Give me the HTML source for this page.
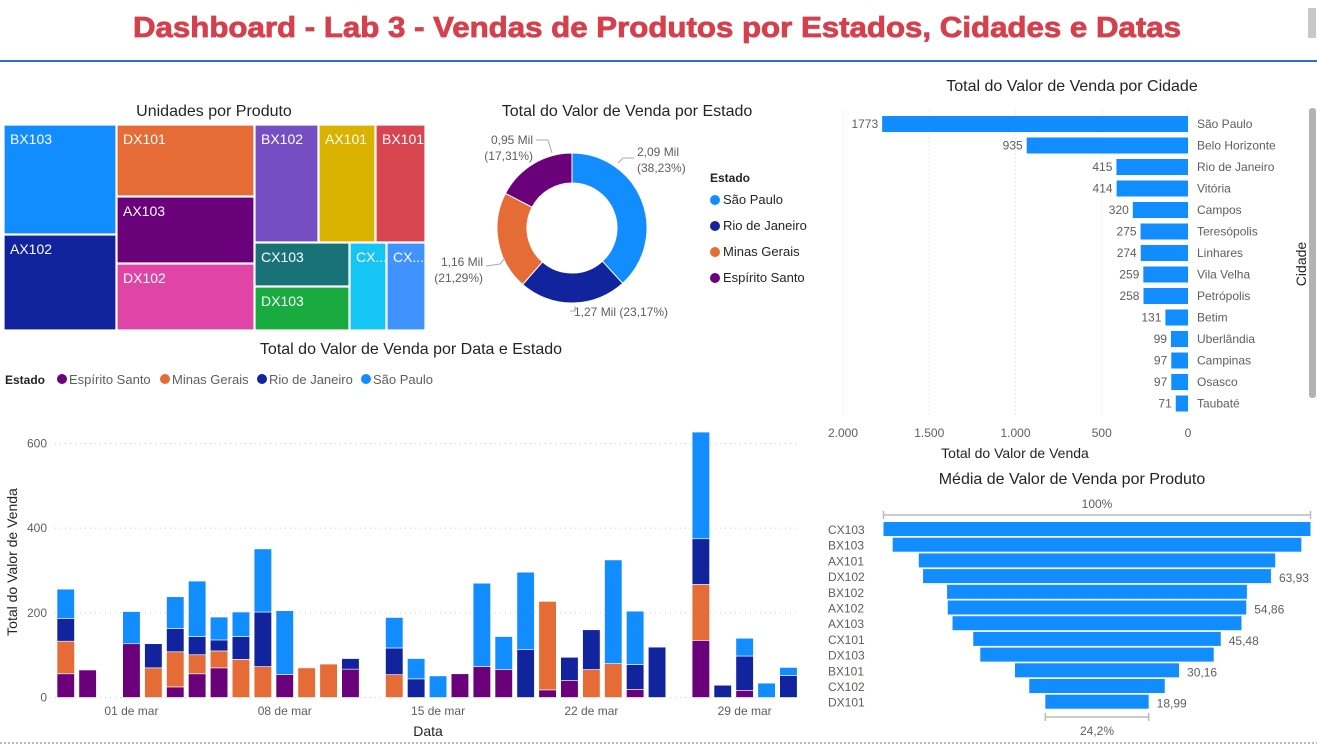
<!DOCTYPE html>
<html><head><meta charset="utf-8"><style>
html,body{margin:0;padding:0;background:#fff;width:1317px;height:745px;overflow:hidden}
svg{display:block;font-family:"Liberation Sans","DejaVu Sans",sans-serif}
</style></head><body>
<svg id="s" width="1317" height="745" viewBox="0 0 1317 745">
<text x="133" y="37" textLength="1048" lengthAdjust="spacingAndGlyphs" font-size="29" font-weight="bold" fill="#d5404c" stroke="#d5404c" stroke-width="0.8">Dashboard - Lab 3 - Vendas de Produtos por Estados, Cidades e Datas</text>
<rect x="1308" y="8" width="8" height="30" fill="#c8c8c8"/>
<line x1="0" y1="61" x2="1317" y2="61" stroke="#2b6fce" stroke-width="2"/>
<line x1="0" y1="743" x2="1317" y2="743" stroke="#777" stroke-dasharray="2,2"/>
<g id="tree">
<text x="214" y="116" text-anchor="middle" font-size="16" fill="#252423">Unidades por Produto</text>
</g>
<g id="donut">
<text x="627" y="116" text-anchor="middle" font-size="16" fill="#252423">Total do Valor de Venda por Estado</text>
</g>
<g id="city">
<text x="1072" y="91" text-anchor="middle" font-size="16" fill="#252423">Total do Valor de Venda por Cidade</text>
<rect x="1309" y="108" width="7" height="290" rx="3" fill="#b3b3b3"/>
<text transform="translate(1306,264) rotate(-90)" text-anchor="middle" font-size="14" fill="#252423">Cidade</text>
<text x="1015" y="458" text-anchor="middle" font-size="14" fill="#252423">Total do Valor de Venda</text>
</g>
<g id="funnel">
<text x="1072" y="484" text-anchor="middle" font-size="16" fill="#252423">Média de Valor de Venda por Produto</text>
</g>
<g id="main">
<text x="411" y="354" text-anchor="middle" font-size="16" fill="#252423">Total do Valor de Venda por Data e Estado</text>
<text transform="translate(17,562) rotate(-90)" text-anchor="middle" font-size="14" fill="#252423">Total do Valor de Venda</text>
<text x="428" y="736" text-anchor="middle" font-size="14" fill="#252423">Data</text>
</g>
</svg>
<script>
// ---- data ----
const treeNames=["BX103","AX102","DX101","AX103","DX102","BX102","AX101","BX101","CX103","DX103","CX...","CX..."];
const stateNames=["São Paulo","Rio de Janeiro","Minas Gerais","Espírito Santo"];
const stateValues=[2.09,1.27,1.16,0.95];
const stateLabels=["2,09 Mil","1,27 Mil","1,16 Mil","0,95 Mil"];
const statePct=["(38,23%)","(23,17%)","(21,29%)","(17,31%)"];
const cities=["São Paulo","Belo Horizonte","Rio de Janeiro","Vitória","Campos","Teresópolis","Linhares","Vila Velha","Petrópolis","Betim","Uberlândia","Campinas","Osasco","Taubaté"];
const cityValues=[1773,935,415,414,320,275,274,259,258,131,99,97,97,71];
const cityTicks=[2000,1500,1000,500,0];
const cityTickLabels=["2.000","1.500","1.000","500","0"];
const funnelProducts=["CX103","BX103","AX101","DX102","BX102","AX102","AX103","CX101","DX103","BX101","CX102","DX101"];
const funnelValues=[78.47,75.1,65.5,63.93,55.1,54.86,53.1,45.48,42.9,30.16,24.9,18.99];
const funnelShown=["","","","63,93","","54,86","","45,48","","30,16","","18,99"];
const dates=["26 fev","27 fev","28 fev","01 mar","02 mar","03 mar","04 mar","05 mar","06 mar","07 mar","08 mar","09 mar","10 mar","11 mar","12 mar","13 mar","14 mar","15 mar","16 mar","17 mar","18 mar","19 mar","20 mar","21 mar","22 mar","23 mar","24 mar","25 mar","26 mar","27 mar","28 mar","29 mar","30 mar","31 mar"];
const esVals=[56,65,0,127,0,25,56,70,0,0,54,0,0,67,0,0,0,0,56,73,66,0,18,40,0,0,19,0,0,135,0,17,0,0];
const mgVals=[77,0,0,0,70,83,45,40,90,73,0,70,79,0,0,54,0,0,0,0,0,0,209,0,66,80,0,0,0,132,0,0,0,0];
const rjVals=[54,0,0,0,57,55,43,26,54,129,0,0,0,25,0,63,44,0,0,0,0,113,0,55,94,0,59,119,0,108,29,81,0,52];
const spVals=[69,0,0,76,0,75,131,54,58,149,151,0,0,0,0,72,48,51,0,197,78,183,0,0,0,245,126,0,0,252,0,42,34,19];
const yTicks=[0,200,400,600];
const xTickIdx=[3,10,17,24,31];
const xTickLabels=["01 de mar","08 de mar","15 de mar","22 de mar","29 de mar"];

const NS="http://www.w3.org/2000/svg";
function mk(parent,tag,attrs,text){const e=document.createElementNS(NS,tag);for(const k in attrs)e.setAttribute(k,attrs[k]);if(text!==undefined)e.textContent=text;parent.appendChild(e);return e;}

// ---- treemap ----
const tree=document.getElementById('tree');
const treeRects=[[4,125,112,109],[4,235,112,95],[117,125,137,71],[117,197,137,66],[117,264,137,66],[255,125,63,117],[319,125,56,117],[376,125,49,117],[255,243,94,43],[255,287,94,43],[350,243,36,87],[387,243,38,87]];
const treeColors=["#118dff","#12239e","#e66c37","#6b007b","#e044a7","#744ec2","#d9b300","#d64550","#197278","#1aab40","#15c6f4","#4092ff"];
treeNames.forEach((n,i)=>{const r=treeRects[i];
 const e=mk(tree,'rect',{x:r[0],y:r[1],width:r[2],height:r[3],fill:treeColors[i],stroke:'#fff','stroke-width':1.2});
 
 
 const t=mk(tree,'text',{x:r[0]+6,y:r[1]+19,'font-size':14,fill:'#fff'},n);
 
 
});

// ---- donut ----
const dn=document.getElementById('donut');
const cx=572,cy=228,R=75,r0=45;
const dColors=["#118dff","#12239e","#e66c37","#6b007b"];
const tot=stateValues.reduce((a,b)=>a+b,0);
let a0=-Math.PI/2;
const labelPos=[[637,156,'start'],[574,316,'start'],[483,266,'end'],[533,144,'end']];
stateValues.forEach((v,i)=>{const a1=a0+v/tot*2*Math.PI;const lg=(a1-a0)>Math.PI?1:0;
 const p=(rad,a)=>[cx+rad*Math.cos(a),cy+rad*Math.sin(a)];
 const [x1,y1]=p(R,a0),[x2,y2]=p(R,a1),[x3,y3]=p(r0,a1),[x4,y4]=p(r0,a0);
 const e=mk(dn,'path',{d:`M${x1},${y1}A${R},${R} 0 ${lg} 1 ${x2},${y2}L${x3},${y3}A${r0},${r0} 0 ${lg} 0 ${x4},${y4}Z`,fill:dColors[i],stroke:'#fff','stroke-width':1});
 
 
 const lp=labelPos[i];
 if(i===1){const t=mk(dn,'text',{x:lp[0],y:lp[1],'font-size':12,fill:'#605e5c'},stateLabels[i]+' '+statePct[i]);
  
  }
 else{const t=mk(dn,'text',{x:lp[0],y:lp[1],'font-size':12,fill:'#605e5c','text-anchor':lp[2]},stateLabels[i]);
  
  
  const t2=mk(dn,'text',{x:lp[0],y:lp[1]+16,'font-size':12,fill:'#605e5c','text-anchor':lp[2]},statePct[i]);
  
  }
 a0=a1;});
[[634,158,623,158,618,163],[486,266,500,264,505,258],[536,140,548,140,552,153],[575,306,575,311,570,311]].forEach(l=>{const e=mk(dn,'polyline',{points:`${l[0]},${l[1]} ${l[2]},${l[3]} ${l[4]},${l[5]}`,fill:'none',stroke:'#aaa'});
 
 });
let tl=mk(dn,'text',{x:710,y:182,'font-size':12,'font-weight':'bold',fill:'#252423'},'Estado');


stateNames.forEach((n,i)=>{const y=204+i*26;
 const c=mk(dn,'circle',{cx:715,cy:y-4,r:5,fill:dColors[i]});
 
 
 const t=mk(dn,'text',{x:723,y:y,'font-size':13,fill:'#252423'},n);
 
 });

// ---- city bars ----
const cg=document.getElementById('city');
const cx0=1188,cScale=345/2000;
const cityX=v=>cx0-v*cScale;
cityTicks.forEach((v,i)=>{const x=cityX(v);
 const g=mk(cg,'line',{x1:x,y1:110,x2:x,y2:418,stroke:'#ddd','stroke-dasharray':'1,3'});
 
 
 const t=mk(cg,'text',{x:x,y:437,'text-anchor':'middle','font-size':12,fill:'#605e5c'},cityTickLabels[i]);
 
 });
cities.forEach((c,i)=>{const y=124+i*21.5;const x=cityX(cityValues[i]);
 const b=mk(cg,'rect',{x:x,y:y-8,width:cx0-x,height:16,fill:'#118dff'});
 
 
 const v=mk(cg,'text',{x:x-4,y:y+4,'text-anchor':'end','font-size':12,fill:'#605e5c'},cityValues[i]);
 
 
 const t=mk(cg,'text',{x:1197,y:y+4,'font-size':12,fill:'#605e5c'},c);
 
 });

// ---- funnel ----
const fg=document.getElementById('funnel');
const fc=1097,fW=427,fMax=Math.max(...funnelValues);
const fw=v=>v/fMax*fW;
let l1=mk(fg,'path',{d:`M${fc-fW/2},511V519M${fc-fW/2},515H${fc+fW/2}M${fc+fW/2},511V519`,stroke:'#bbb',fill:'none','stroke-width':1.5});


let t1=mk(fg,'text',{x:fc,y:508,'text-anchor':'middle','font-size':12,fill:'#605e5c'},'100%');


funnelProducts.forEach((p,i)=>{const y=529+i*15.7;const w=fw(funnelValues[i]);
 const b=mk(fg,'rect',{x:fc-w/2,y:y-7,width:w,height:14,fill:'#118dff'});
 
 
 const t=mk(fg,'text',{x:828,y:y+5,'font-size':12,fill:'#605e5c'},p);
 
 
 if(funnelShown[i]){const v=mk(fg,'text',{x:fc+w/2+8,y:y+6,'font-size':12,fill:'#605e5c'},funnelShown[i]);
  
  }});
const lw=fw(funnelValues[funnelValues.length-1]);
let l2=mk(fg,'path',{d:`M${fc-lw/2},713V721M${fc-lw/2},717H${fc+lw/2}M${fc+lw/2},713V721`,stroke:'#bbb',fill:'none','stroke-width':1.5});


let t2=mk(fg,'text',{x:fc,y:735,'text-anchor':'middle','font-size':12,fill:'#605e5c'},'24,2%');



// ---- stacked bar by date ----
const mg=document.getElementById('main');
const y0=697.5,yS=254/600,x0=57,slot=21.9,bw=17.5;
const yPos=v=>y0-v*yS;
const xPos=i=>x0+i*slot;
const lgTitle=mk(mg,'text',{x:5,y:384,'font-size':12,'font-weight':'bold',fill:'#252423'},'Estado');


const legNames=["Espírito Santo","Minas Gerais","Rio de Janeiro","São Paulo"];
const legColors=["#6b007b","#e66c37","#12239e","#118dff"];
const legX=[62,165,262,366];
legNames.forEach((n,i)=>{const c=mk(mg,'circle',{cx:legX[i],cy:379,r:5,fill:legColors[i]});
 
 
 const t=mk(mg,'text',{x:legX[i]+7,y:384,'font-size':13,fill:'#605e5c'},n);
 
 });
yTicks.forEach(v=>{const y=yPos(v);
 const g=mk(mg,'line',{x1:55,y1:y,x2:800,y2:y,stroke:'#ccc','stroke-dasharray':'1,4'});
 
 
 const t=mk(mg,'text',{x:47,y:y+4,'text-anchor':'end','font-size':12,fill:'#605e5c'},v);
 
 });
xTickIdx.forEach((d,i)=>{const t=mk(mg,'text',{x:xPos(d)+bw/2,y:715,'text-anchor':'middle','font-size':12,fill:'#605e5c'},xTickLabels[i]);
 
 });
const series=[esVals,mgVals,rjVals,spVals];
dates.forEach((d,i)=>{let acc=0;
 series.forEach((s,k)=>{const v=s[i];if(!v)return;
  const b=mk(mg,'rect',{x:xPos(i),y:yPos(acc+v),width:bw,height:v*yS,fill:legColors[k],stroke:'#fff','stroke-width':0.6});
  
  
  acc+=v;});});
</script>
</body></html>
